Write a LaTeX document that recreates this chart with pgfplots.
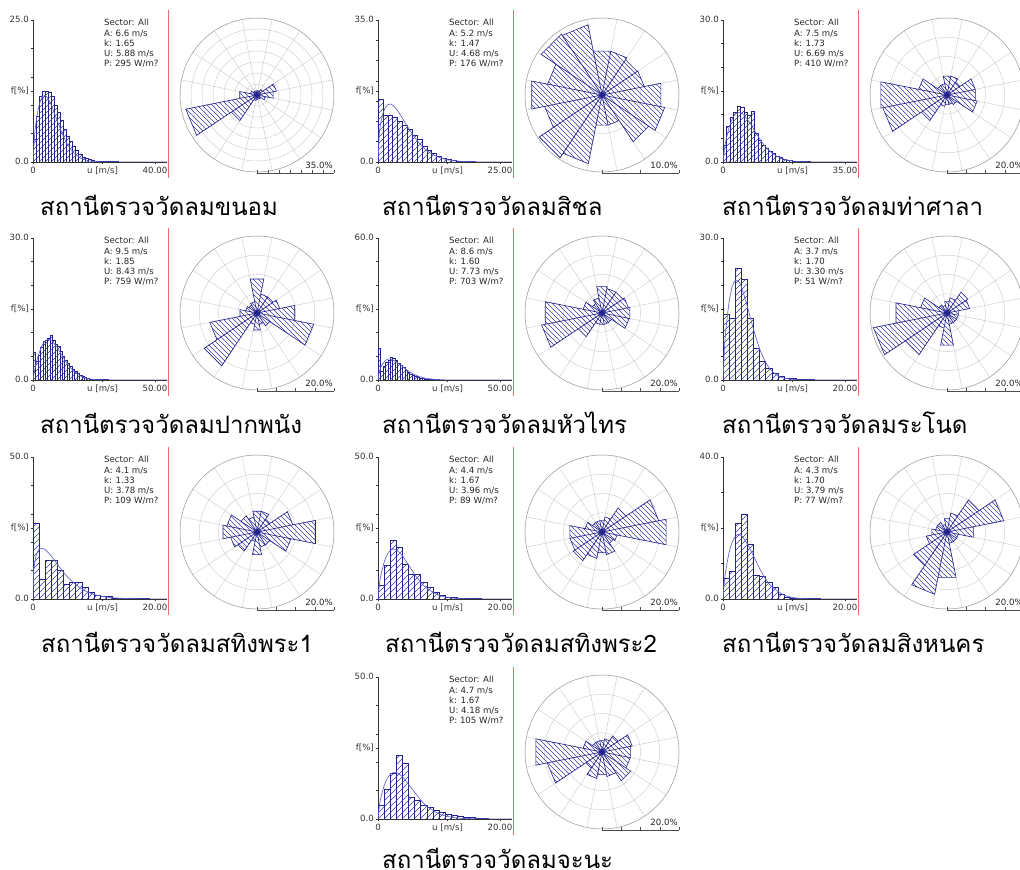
\documentclass[border=0pt]{standalone}
\usepackage{fontspec}
\usepackage{pgfplots}
\pgfplotsset{compat=1.18}
\usepgfplotslibrary{polar}
\newfontfamily\uifont{DejaVu Sans}
\newfontfamily\thaifont[Script=Thai]{Loma}
\definecolor{navyc}{RGB}{35,35,140}
\definecolor{hatchc}{RGB}{60,60,170}
\definecolor{curvec}{RGB}{95,95,205}
\definecolor{gridc}{RGB}{212,208,212}
\definecolor{redl}{RGB}{232,110,110}
\newcommand\infofont{\uifont\fontsize{8.6}{10.3}\selectfont}

\pgfplotsset{
 hist/.style={anchor=south west, scale only axis, width=134pt, height=142pt, xmin=0, ymin=0,
   axis x line*=bottom, axis y line*=left, axis line style={-, black!80, line width=0.6pt},
   tick align=outside, major tick length=2.5pt, minor tick length=2pt,
   every tick/.style={black!80, line width=0.5pt},
   tick label style={font=\infofont, text=black!80},
   typeset ticklabels with strut,
   xticklabel style={inner sep=1.5pt}, yticklabel style={inner sep=1.5pt}},
 rosepolar/.style={anchor=center, scale only axis, width=154pt, height=154pt, ymin=0,
   xtick={11.25,33.75,56.25,78.75,101.25,123.75,146.25,168.75,191.25,213.75,236.25,258.75,281.25,303.75,326.25,348.75},
   xticklabels={}, yticklabels={}, grid=major, major grid style={gridc, line width=0.5pt},
   separate axis lines,
   x axis line style={gridc!80!black, line width=0.5pt}, y axis line style={draw=none},
   major tick length=0pt},
 histline/.style={ybar interval, draw=navyc, line width=0.5pt, fill=none},
 curvestyle/.style={curvec, line width=0.65pt, smooth, no marks},
 roseline/.style={draw=navyc, line width=0.6pt, fill=none, no marks},
}

% histogram: list of bin-start/frequency pairs (bins of 1 m/s), last pair closes the last bin
\newcommand\histplot[1]{%
 \gdef\hc{}\gdef\hclip{}%
 \foreach \hxv/\hyv in {#1}{%
   \pgfmathsetmacro\xb{\hxv+1}%
   \xdef\hc{\hc (\hxv,\hyv)}%
   \ifdim\hyv pt>0pt \xdef\hclip{\hclip (axis cs:\hxv,0) rectangle (axis cs:\xb,\hyv)}\fi
 }%
 \pgfplotsextra{\begin{scope}\edef\tmpclip{\noexpand\clip\hclip;}\tmpclip
   \foreach \k in {-26,...,24}{\draw[hatchc, line width=0.45pt] ([xshift=\k*6pt]axis cs:0,0) -- ++(160pt,160pt);}%
   \end{scope}}%
 \edef\tmpplot{\noexpand\addplot[histline] coordinates {\hc};}%
 \tmpplot
}

% 16 sector frequencies, N, NNE, ..., NNW
\newcommand\rosewedges[1]{%
 \gdef\rosecoords{}\gdef\roseclip{}%
 \foreach \rv [count=\ii from 0] in {#1}{%
   \pgfmathsetmacro\angA{78.75-22.5*\ii}%
   \pgfmathsetmacro\angB{101.25-22.5*\ii}%
   \xdef\rosecoords{\rosecoords (0,0) (\angA,\rv) (\angB,\rv)}%
   \xdef\roseclip{\roseclip (axis cs:0,0) -- (axis cs:\angA,\rv) -- (axis cs:\angB,\rv) -- cycle}%
 }%
 \pgfplotsextra{\begin{scope}\edef\tmpclip{\noexpand\clip\roseclip;}\tmpclip
   \foreach \k in {-23,...,23}{\draw[hatchc, line width=0.45pt] ([xshift=\k*5pt]axis cs:0,0) ++(-110pt,110pt) -- ++(220pt,-220pt);}%
   \end{scope}}%
 \edef\tmpplot{\noexpand\addplot[roseline] coordinates {\rosecoords (0,0)};}%
 \tmpplot
}

\newcommand\panel[8]{%
 \pgfmathsetmacro\hx{\PX+33}%
 \pgfmathsetmacro\hy{870-\PY-162}%
 \pgfmathsetmacro\xmaxv{\XM*134/122}%
 \pgfmathsetmacro\um{0.57*\XM}%
 \pgfmathsetmacro\ym{\YM/2}%
 \begin{axis}[hist, at={(\hx pt,\hy pt)}, xmax=\xmaxv, ymax=\YM,
    xtick={0,\um,\XM}, xticklabels={0,u [m/s],\XL},
    ytick={0,\ym,\YM}, yticklabels={0.0,f[\%],\YL},
    minor ytick={0,\YS,...,\YM}]
   \histplot{#1}
   \addplot[curvestyle] coordinates {#2};
 \end{axis}
 \pgfmathsetmacro\ix{\PX+104}%
 \pgfmathsetmacro\iy{870-\PY-19}%
 \node[anchor=north west, font=\infofont, align=left, inner sep=0pt, text=black!85] at (\ix pt,\iy pt)
   {Sector: All\\A: #3 m/s\\k: #4\\U: #5 m/s\\P: #6 W/m?};
 \pgfmathsetmacro\cx{\PX+257}%
 \pgfmathsetmacro\cy{870-\PY-95}%
 \begin{polaraxis}[rosepolar, at={(\cx pt,\cy pt)}, ymax=\RM, ytick={5,10,...,\RM}]
   \rosewedges{#7}
 \end{polaraxis}
 \pgfmathsetmacro\sby{870-\PY-173}%
 \pgfmathsetmacro\sbr{\cx+77}%
 \draw[black!70, line width=0.5pt] (\cx pt,\sby pt) -- (\sbr pt,\sby pt);
 \pgfmathtruncatemacro\nt{\RM/5}%
 \foreach \tk in {0,...,\nt}{%
   \pgfmathsetmacro\tx{\cx+77*\tk/\nt}%
   \draw[black!70, line width=0.5pt] (\tx pt,\sby pt) -- (\tx pt,\sby pt+3pt);}
 \node[anchor=south east, font=\infofont, inner sep=1pt, text=black!85] at (\sbr pt,\sby pt+3pt) {\RL\%};
 \pgfmathsetmacro\capx{\PX+\CX}%
 \pgfmathsetmacro\capy{870-\PY-\CY}%
 \node[anchor=west, inner sep=0pt, font=\thaifont\fontsize{24}{28}\selectfont] at (\capx pt,\capy pt) {#8};
 \pgfmathsetmacro\rx{\PX+168}%
 \pgfmathsetmacro\rya{870-\PY-10}%
 \pgfmathsetmacro\ryb{870-\PY-178}%
 \draw[redl, line width=0.9pt] (\rx pt,\rya pt) -- (\rx pt,\ryb pt);
}

\begin{document}
\begin{tikzpicture}
\useasboundingbox (0,0) rectangle (1020pt,870pt);

\def\CY{205}
% ---- Panel 1: Khanom
\def\PX{0}\def\PY{0}\def\XM{40}\def\XL{40.00}\def\YM{25}\def\YL{25.0}\def\YS{5}\def\RM{35}\def\RL{35.0}\def\CX{40}
\panel{0/4,1/8,2/11.5,3/12.4,4/12.5,5/12.3,6/11.5,7/10,8/8.8,9/7.3,10/5.8,11/4.6,12/3.6,13/2.8,14/2.0,15/1.4,16/0.9,17/0.6,18/0.4,19/0.3,20/0.2,21/0.15,22/0.1,23/0.1,24/0.1,25/0.05,26/0.05,27/0.05,28/0}
{(0,0) (0.5,4.6) (1,7.0) (2,10.0) (3,11.4) (4,11.7) (5,11.1) (6,10.0) (8,7.2) (10,4.5) (12,2.5) (14,1.3) (16,0.6) (18,0.25) (20,0.1) (24,0.01) (28,0) (43.9,0)}
{6.6}{1.65}{5.88}{295}
{2,2,3,9,7.5,4,2,2,2,2.5,14,33,8,3,2,2}
{สถานีตรวจวัดลมขนอม}

% ---- Panel 2: Sichon
\def\PX{345}\def\PY{0}\def\XM{25}\def\XL{25.00}\def\YM{35}\def\YL{35.0}\def\YS{5}\def\RM{10}\def\RL{10.0}\def\CX{37}
\panel{0/15.5,1/11.5,2/11.5,3/11,4/10,5/9,6/8,7/6.5,8/5.5,9/3.8,10/3,11/2.2,12/1.5,13/1,14/0.6,15/0.4,16/0.3,17/0.15,18/0.1,19/0.1,20/0.05,21/0.05,22/0}
{(0,0) (0.25,6.7) (0.5,9.1) (1,11.9) (1.5,13.4) (2,14.1) (2.5,14.3) (3,14.0) (4,12.7) (5,10.8) (6,8.8) (8,5.3) (10,2.8) (12,1.4) (14,0.6) (16,0.25) (18,0.1) (20,0.04) (22,0) (27.46,0)}
{5.2}{1.47}{4.68}{176}
{5.8,5.8,5.5,5.6,7.8,8.3,7.3,4,4,9.1,9.8,7.6,9.3,7.2,9.5,9.3}
{สถานีตรวจวัดลมสิชล}

% ---- Panel 3: Tha Sala
\def\PX{690}\def\PY{0}\def\XM{35}\def\XL{35.00}\def\YM{30}\def\YL{30.0}\def\YS{5}\def\RM{20}\def\RL{20.0}\def\CX{32}
\panel{0/3.5,1/7.5,2/9.5,3/10.5,4/11.8,5/11.5,6/10.5,7/9.9,8/10.7,9/6,10/4.6,11/3.5,12/3.0,13/2.3,14/1.8,15/1.3,16/0.9,17/0.6,18/0.4,19/0.3,20/0.2,21/0.15,22/0.1,23/0.1,24/0.1,25/0.05,26/0.05,27/0.05,28/0}
{(0,0) (0.5,3.2) (1,5.1) (2,7.9) (3,9.6) (4,10.4) (5,10.5) (6,9.9) (7,9.0) (8,7.9) (10,5.5) (12,3.4) (14,1.9) (16,1.0) (18,0.5) (20,0.2) (22,0.08) (25,0.02) (28,0) (38.44,0)}
{7.5}{1.73}{6.69}{410}
{5,5,4,7.5,7.5,8,3,2.5,2.5,3,8,17,17.5,7.5,3,3}
{สถานีตรวจวัดลมท่าศาลา}

% ---- Panel 4: Pak Phanang
\def\PX{0}\def\PY{218}\def\XM{50}\def\XL{50.00}\def\YM{30}\def\YL{30.0}\def\YS{5}\def\RM{20}\def\RL{20.0}\def\CX{40}
\panel{0/5.8,1/3.9,2/5.3,3/7,4/8.1,5/8.5,6/8.8,7/9.5,8/8.5,9/7.6,10/7.1,11/6,12/5,13/4.2,14/3.5,15/2.8,16/2.3,17/1.8,18/1.4,19/1,20/0.7,21/0.5,22/0.35,23/0.25,24/0.2,25/0.15,26/0.1,27/0.1,28/0.1,29/0.1,30/0.1,31/0.05,32/0.05,33/0.05,34/0.05,35/0.05,36/0.05,37/0.05,38/0}
{(0,0) (0.5,1.6) (1,2.8) (2,4.9) (4,7.6) (6,8.6) (7,8.5) (8,8.1) (10,6.8) (12,5.1) (14,3.5) (16,2.2) (18,1.3) (20,0.7) (22,0.35) (25,0.1) (30,0.02) (35,0) (54.92,0)}
{9.5}{1.85}{8.43}{759}
{9,5,5,6,10,15,4,3,4.5,3,16.5,12.5,4.5,3,2.5,3}
{สถานีตรวจวัดลมปากพนัง}

% ---- Panel 5: Hua Sai
\def\PX{345}\def\PY{218}\def\XM{50}\def\XL{50.00}\def\YM{60}\def\YL{60.0}\def\YS{10}\def\RM{20}\def\RL{20.0}\def\CX{37}
\panel{0/13.4,1/3.5,2/6,3/7.5,4/8.5,5/9.5,6/9,7/8.5,8/7.2,9/6.2,10/5.2,11/4.2,12/3.2,13/2.5,14/2,15/1.5,16/1.2,17/0.9,18/0.7,19/0.5,20/0.4,21/0.3,22/0.25,23/0.2,24/0.15,25/0.1,26/0.1,27/0.1,28/0.1,29/0.05,30/0.05,31/0.05,32/0.05,33/0.05,34/0}
{(0,0) (0.5,3.3) (1,5.0) (2,7.0) (3,8.2) (4,8.8) (5,8.8) (6,8.5) (8,7.3) (10,5.7) (12,4.1) (14,2.8) (16,1.8) (18,1.1) (20,0.65) (24,0.2) (28,0.05) (32,0.01) (35,0) (54.92,0)}
{8.6}{1.60}{7.73}{703}
{7,6.5,6.5,7,7.4,7.2,3,3,3,3,7.4,16,15,5,3,4}
{สถานีตรวจวัดลมหัวไทร}

% ---- Panel 6: Ranot
\def\PX{690}\def\PY{218}\def\XM{20}\def\XL{20.00}\def\YM{30}\def\YL{30.0}\def\YS{5}\def\RM{20}\def\RL{20.0}\def\CX{32}
\panel{0/13.9,1/13,2/23.6,3/21.2,4/13.1,5/6.7,6/3.9,7/2.5,8/1.4,9/0.7,10/0.35,11/0.35,12/0.2,13/0.15,14/0.1,15/0}
{(0,0) (0.25,6.9) (0.5,11) (1,16.5) (1.5,19.7) (2,21.0) (2.5,20.9) (3,19.7) (4,15.5) (5,10.7) (6,6.6) (7,3.7) (8,1.9) (9,0.9) (10,0.4) (12,0.07) (14,0) (21.97,0)}
{3.7}{1.70}{3.30}{51}
{3,4,6.5,6,3,3,3,3,8.5,4,13,19.5,13.5,7,2.5,2}
{สถานีตรวจวัดลมระโนด}

% ---- Panel 7: Sathing Phra 1
\def\PX{0}\def\PY{437}\def\XM{20}\def\XL{20.00}\def\YM{50}\def\YL{50.0}\def\YS{10}\def\RM{20}\def\RL{20.0}\def\CX{41}
\panel{0/26.5,1/7.1,2/13.5,3/13.5,4/10,5/5.3,6/5.9,7/5.9,8/4.1,9/2.4,10/1.4,11/0.8,12/0.8,13/0.35,14/0.35,15/0.35,16/0.35,17/0.35,18/0.35,19/0}
{(0,0) (0.1,9.5) (0.5,15.2) (1,17.5) (1.5,17.9) (2,17.4) (3,15.1) (4,12.2) (5,9.4) (6,7.0) (8,3.5) (10,1.6) (12,0.7) (14,0.3) (16,0.12) (18,0.05) (20,0.02) (21.97,0)}
{4.1}{1.33}{3.78}{109}
{5.5,5.5,4,9.5,15.5,9,4,4,6,2.5,6,7,9,8,5,4}
{สถานีตรวจวัดลมสทิงพระ1}

% ---- Panel 8: Sathing Phra 2
\def\PX{345}\def\PY{437}\def\XM{20}\def\XL{20.00}\def\YM{50}\def\YL{50.0}\def\YS{10}\def\RM{20}\def\RL{20.0}\def\CX{40}
\panel{0/4.7,1/11.8,2/20.6,3/18.2,4/12.4,5/8.8,6/8.8,7/5.9,8/4.1,9/2.4,10/1.2,11/0.6,12/0.6,13/0.35,14/0.35,15/0.35,16/0.35,17/0}
{(0,0) (0.25,5.5) (0.5,8.6) (1,12.9) (1.5,15.6) (2,17.1) (2.5,17.6) (3,17.3) (4,15.2) (5,12.0) (6,8.7) (7,5.9) (8,3.8) (10,1.3) (12,0.4) (14,0.08) (16,0) (21.97,0)}
{4.4}{1.67}{3.96}{89}
{3,4,7.5,15,17,4,3.5,6,5.5,7,9,8.5,8.5,4.5,3,3}
{สถานีตรวจวัดลมสทิงพระ2}

% ---- Panel 9: Sing Nakhon
\def\PX{690}\def\PY{437}\def\XM{20}\def\XL{20.00}\def\YM{40}\def\YL{40.0}\def\YS{10}\def\RM{20}\def\RL{20.0}\def\CX{32}
\panel{0/5.8,1/7.7,2/21.3,3/24,4/15.4,5/6.7,6/6.3,7/4.8,8/3.4,9/1.2,10/0.5,11/0.3,12/0.3,13/0.2,14/0.2,15/0.1,16/0}
{(0,0) (0.25,5.4) (0.5,8.5) (1,13.1) (1.5,16.0) (2,17.6) (2.5,18.2) (3,17.9) (4,15.5) (5,12.1) (6,8.6) (7,5.6) (8,3.4) (10,1.1) (12,0.25) (14,0.05) (16,0) (21.97,0)}
{4.3}{1.70}{3.79}{77}
{3.5,5,10,15,7,3,3,3,12,16.5,10.5,5.5,4,3,3,2}
{สถานีตรวจวัดลมสิงหนคร}

% ---- Panel 10: Chana
\def\CY{201}
\def\PX{345}\def\PY{657}\def\XM{20}\def\XL{20.00}\def\YM{50}\def\YL{50.0}\def\YS{10}\def\RM{20}\def\RL{20.0}\def\CX{37}
\panel{0/4.7,1/10.6,2/16,3/22.4,4/19.5,5/7.5,6/6.5,7/5,8/4,9/3.2,10/2.5,11/1.8,12/1.2,13/0.8,14/0.6,15/0.5,16/0.3,17/0.2,18/0}
{(0,0) (0.25,5) (0.5,7.8) (1,11.7) (1.5,14.2) (2,15.7) (2.5,16.4) (3,16.4) (4,14.9) (5,12.2) (6,9.4) (7,6.7) (8,4.5) (10,1.8) (12,0.65) (14,0.2) (16,0.04) (18,0) (21.97,0)}
{4.7}{1.67}{4.18}{105}
{3,3.5,5,8,7.5,7.5,9,6.5,6,7,5,14.5,17.5,5,3,3}
{สถานีตรวจวัดลมจะนะ}

\end{tikzpicture}
\end{document}
